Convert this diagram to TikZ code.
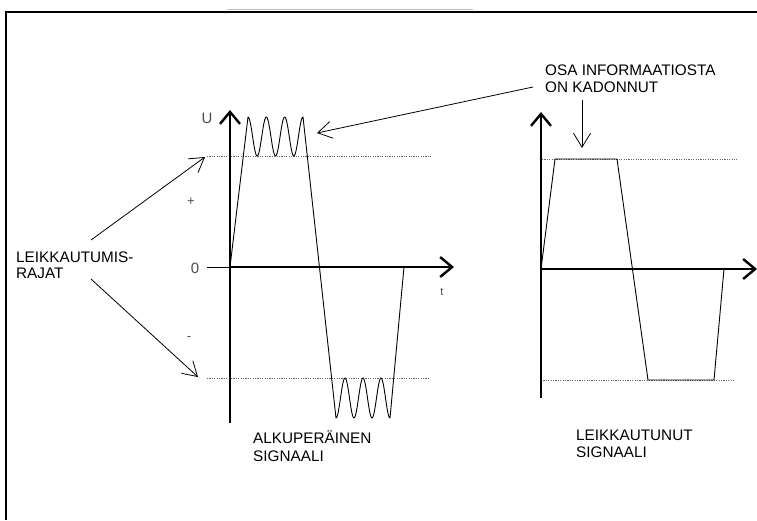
\documentclass[tikz,border=0pt]{standalone}
\usepackage{fontspec}
\setmainfont{Liberation Sans}
\usetikzlibrary{arrows.meta}
\begin{document}
\begin{tikzpicture}[x=1pt,y=-1pt,
  axis/.style={line width=2.4pt,-{Straight Barb[length=12pt,width=20pt,line width=2.4pt]}},
  sig/.style={line width=0.9pt,line join=round},
  cliplevel/.style={line width=0.7pt,black!60,dash pattern=on 1.2pt off 1.2pt},
  pointer/.style={line width=0.8pt,-{Straight Barb[length=14pt,width=17pt,line width=0.8pt]}},
  lbl/.style={align=left,inner sep=0pt,anchor=north west},
  ticklbl/.style={font=\fontsize{15}{15}\selectfont,text=black!70,inner sep=0pt}
]
\useasboundingbox (0,0) rectangle (757,520);
% frame
\draw[line width=2pt] (6,520) -- (6,12) -- (757,12);
\draw[black!25,line width=0.5pt] (227,9) -- (473,9);

% ---------- left graph ----------
\coordinate (O1) at (230,267);
\coordinate (Y1b) at (230,423);
\coordinate (Y1t) at (230,110);
\coordinate (X1l) at (207,267);
\coordinate (X1r) at (454,267);
\coordinate (U1a) at (207,156);
\coordinate (U1b) at (432,156);
\coordinate (L1a) at (207,378);
\coordinate (L1b) at (430,378);
\draw[cliplevel] (U1a) -- (U1b);
\draw[cliplevel] (L1a) -- (L1b);
\draw[line width=0.8pt] (X1l) -- (O1);
\draw[axis] (Y1b) -- (Y1t);
\draw[axis] (O1) -- (X1r);
\draw[sig] (O1) -- (248,117)
  -- plot[domain=0:55,samples=80] ({248+\x},{136.5-19.5*cos(\x*19.636)})
  -- (336,418)
  -- plot[domain=0:54,samples=80] ({336+\x},{398+20*cos(\x*20)})
  -- (404,267);
\node[ticklbl] (U) at (207,118) {U};
\node[ticklbl,font=\fontsize{13}{13}\selectfont] (plus) at (191,202) {+};
\node[ticklbl] (zero) at (195,268) {0};
\node[ticklbl,font=\fontsize{13}{13}\selectfont] (minus) at (189,339) {-};
\node[ticklbl,font=\fontsize{11}{11}\selectfont] (t) at (442,292) {t};

% ---------- right graph ----------
\coordinate (O2) at (541,269);
\coordinate (Y2b) at (541,398);
\coordinate (Y2t) at (541,112);
\coordinate (X2r) at (757,269);
\coordinate (U2a) at (542,159);
\coordinate (U2b) at (737,159);
\coordinate (L2a) at (541,380);
\coordinate (L2b) at (735,380);
\draw[cliplevel] (U2a) -- (U2b);
\draw[cliplevel] (L2a) -- (L2b);
\draw[axis] (Y2b) -- (Y2t);
\draw[axis] (O2) -- (X2r);
\draw[sig] (O2) -- (555,159) -- (617,159) -- (648,380) -- (714,380) -- (724,269);

% ---------- texts ----------
\node[lbl,font=\fontsize{15.3}{17}\selectfont] (osa) at (545,65) {OSA INFORMAATIOSTA\\ON KADONNUT};
\node[lbl,font=\fontsize{15.3}{15.5}\selectfont] (leik) at (16,252) {LEIKKAUTUMIS-\\RAJAT};
\node[lbl,font=\fontsize{15.3}{18}\selectfont] (alku) at (253,430) {ALKUPERÄINEN\\SIGNAALI};
\node[lbl,font=\fontsize{15.3}{16.5}\selectfont] (leikt) at (576,430) {LEIKKAUTUNUT\\SIGNAALI};

% ---------- pointers ----------
\coordinate (osaS) at (533,87);
\coordinate (rip) at (317,133);
\coordinate (osaD) at (582,100);
\coordinate (flat) at (582,148);
\coordinate (leikU) at (91,240);
\coordinate (leikL) at (91,279);
\coordinate (upTip) at (205,157);
\coordinate (loTip) at (198,377);
\draw[pointer] (osaS) -- (rip);
\draw[pointer] (osaD) -- (flat);
\draw[pointer] (leikU) -- (upTip);
\draw[pointer] (leikL) -- (loTip);
\end{tikzpicture}
\end{document}
